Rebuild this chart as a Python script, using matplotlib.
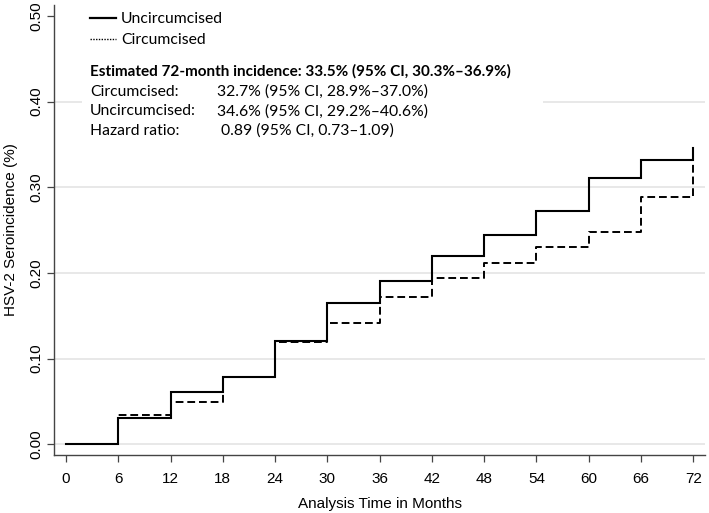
import matplotlib
matplotlib.use("Agg")
import matplotlib.pyplot as plt
from matplotlib.patches import Rectangle
from matplotlib.lines import Line2D

plt.rcParams["font.family"] = ["Liberation Sans", "DejaVu Sans"]

months = [0, 6, 12, 18, 24, 30, 36, 42, 48, 54, 60, 66, 72]
uncircumcised = [0.0, 0.031, 0.0614, 0.079, 0.1205, 0.1645, 0.190, 0.2197, 0.244, 0.272, 0.311, 0.332, 0.346]
circumcised = [0.0, 0.0338, 0.0494, 0.079, 0.119, 0.142, 0.1715, 0.194, 0.211, 0.2306, 0.2474, 0.288, 0.327]
yticks = [0.0, 0.1, 0.2, 0.3, 0.4, 0.5]
ytick_labels = ["0.00", "0.10", "0.20", "0.30", "0.40", "0.50"]
grid_levels = [0.0, 0.1, 0.2, 0.3, 0.4]

legend_labels = ["Uncircumcised", "Circumcised"]
summary_title = "Estimated 72-month incidence: 33.5% (95% CI, 30.3%\u201336.9%)"
summary_rows = [
    ("Circumcised:", "32.7% (95% CI, 28.9%\u201337.0%)"),
    ("Uncircumcised:", "34.6% (95% CI, 29.2%\u201340.6%)"),
    ("Hazard ratio:", " 0.89 (95% CI, 0.73\u20131.09)"),
]

W, H = 709, 513
fig = plt.figure(figsize=(W / 100, H / 100), dpi=100)
ax = fig.add_axes([54 / W, 1 - 455 / H, (705 - 54) / W, (455 - 5) / H])

x0px, x72px = 66.0, 693.3
ppm = (x72px - x0px) / 72
ax.set_xlim(-(66 - 54) / ppm, 72 + (705 - x72px) / ppm)
y0px, ppv = 444.3, 857.0
ax.set_ylim(-(455 - y0px) / ppv, (y0px - 5) / ppv)

for yv in grid_levels:
    ax.axhline(yv, color="#e6e6e6", lw=1.3, zorder=0)

def px2data(px, py):
    return (px - x0px) / ppm, (y0px - py) / ppv

bx0, by0 = px2data(82, 150)
bx1, by1 = px2data(543, 6)
ax.add_patch(Rectangle((bx0, by0), bx1 - bx0, by1 - by0, facecolor="white",
                       edgecolor="none", zorder=1))

ax.step(months, uncircumcised, where="post", color="black", lw=1.5, zorder=3,
        solid_joinstyle="miter")
ax.step(months, circumcised, where="post", color="black", lw=1.4, zorder=2,
        linestyle=(0, (4, 2)))

for side in ["top", "right"]:
    ax.spines[side].set_visible(False)
for side in ["left", "bottom"]:
    ax.spines[side].set_color("#444444")
    ax.spines[side].set_linewidth(1.0)

tfs = 11
ax.set_xticks(months)
ax.set_xticklabels([str(m) for m in months], fontsize=tfs)
ax.set_yticks(yticks)
ax.set_yticklabels(ytick_labels, rotation=90, va="center", fontsize=tfs)
ax.tick_params(axis="both", direction="out", length=5, width=0.9, color="#444444")
ax.tick_params(axis="x", pad=7)
ax.tick_params(axis="y", pad=3)
ax.set_xlabel("Analysis Time in Months", fontsize=tfs, labelpad=8.5)
ax.set_ylabel("HSV-2 Seroincidence (%)", fontsize=tfs, labelpad=8)

def fx(px):
    return px / W

def fy(py):
    return 1 - py / H

font = ["Lato", "DejaVu Sans"]
fs = 11.3
fig.add_artist(Line2D([fx(90), fx(116)], [fy(18), fy(18)], color="black", lw=1.6))
fig.add_artist(Line2D([fx(90), fx(116)], [fy(39), fy(39)], color="black", lw=1.0,
                      linestyle=(0, (1, 1))))
fig.text(fx(121), fy(19), legend_labels[0], family=font, fontsize=fs, va="center")
fig.text(fx(121), fy(40), legend_labels[1], family=font, fontsize=fs, va="center")
fig.text(fx(90), fy(71), summary_title, family=font, fontsize=fs - 0.3, fontweight="bold", va="center")
for i, (lab, val) in enumerate(summary_rows):
    yy = fy(92 + i * 19.3)
    fig.text(fx(90), yy, lab, family=font, fontsize=fs, va="center")
    fig.text(fx(217), yy, val, family=font, fontsize=fs, va="center")

fig.savefig("out.png", dpi=100)
